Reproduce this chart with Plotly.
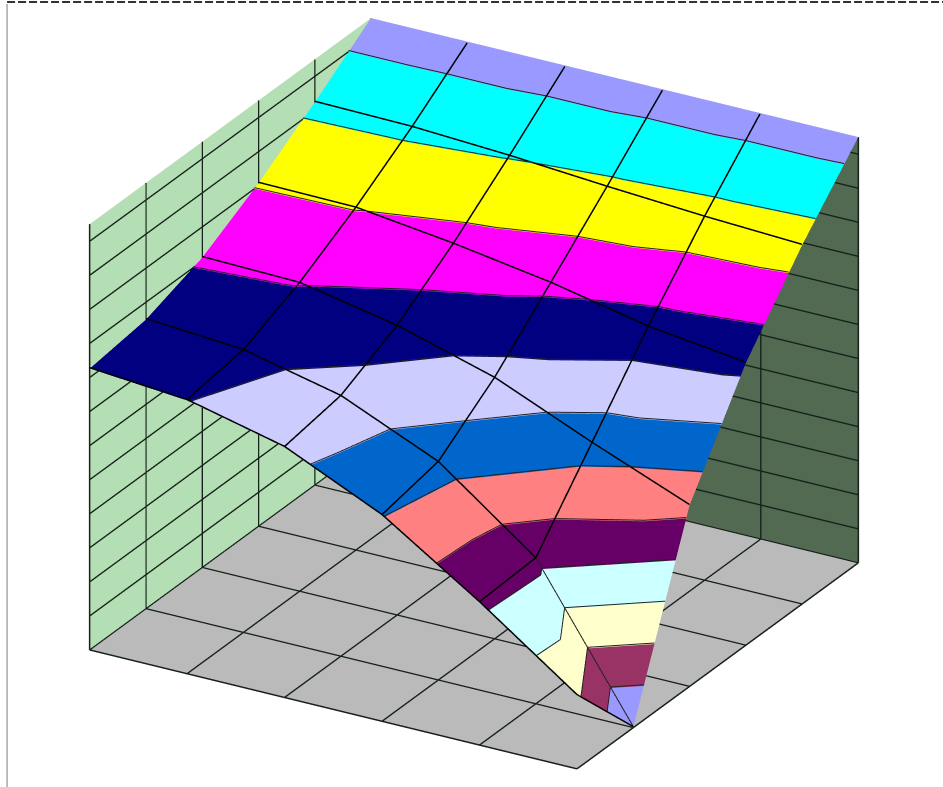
import plotly.graph_objects as go

# category positions on the two floor axes
x_cats = [0, 1, 2, 3, 4, 5]
y_cats = [0, 1, 2, 3, 4, 5]

# surface heights, one row per y category
row_0 = [8.26, 8.02, 7.34, 6.04, 4.18, 2.15]
row_1 = [8.49, 8.28, 7.63, 6.39, 4.26, 0.0]
row_2 = [9.10, 9.04, 8.48, 7.65, 6.44, 5.31]
row_3 = [10.07, 10.04, 9.68, 9.23, 8.64, 8.28]
row_4 = [11.24, 11.20, 11.05, 10.84, 10.66, 10.53]
row_5 = [12.5, 12.5, 12.5, 12.5, 12.5, 12.5]
z_rows = [row_0, row_1, row_2, row_3, row_4, row_5]

z_ticks = [1, 2, 3, 4, 5, 6, 7, 8, 9, 10, 11, 12]
z_top = 12.5

# one colour per height band, lowest first
band_colors = ["#9999ff", "#993366", "#ffffcc", "#ccffff", "#660066", "#ff8080", "#0066cc",
               "#ccccff", "#000080", "#ff00ff", "#ffff00", "#00ffff", "#9999ff"]

LIFT = 0.03  # keeps the lines just above the surface


def clip(poly, level, keep_above):
    # cut a polygon at a height
    out = []
    for a, b in zip(poly, poly[1:] + poly[:1]):
        a_in = a[2] >= level if keep_above else a[2] <= level
        b_in = b[2] >= level if keep_above else b[2] <= level
        if a_in:
            out.append(a)
        if a_in != b_in:
            t = (level - a[2]) / (b[2] - a[2])
            out.append((a[0] + t * (b[0] - a[0]), a[1] + t * (b[1] - a[1]), level))
    return out


# each cell is split along the diagonal whose ends are closest in height
triangles = []
for j in range(len(y_cats) - 1):
    for i in range(len(x_cats) - 1):
        p00 = (x_cats[i], y_cats[j], z_rows[j][i])
        p10 = (x_cats[i + 1], y_cats[j], z_rows[j][i + 1])
        p11 = (x_cats[i + 1], y_cats[j + 1], z_rows[j + 1][i + 1])
        p01 = (x_cats[i], y_cats[j + 1], z_rows[j + 1][i])
        if abs(p00[2] - p11[2]) <= abs(p10[2] - p01[2]):
            triangles += [[p00, p10, p11], [p00, p11, p01]]
        else:
            triangles += [[p00, p10, p01], [p10, p11, p01]]

vx, vy, vz, fi, fj, fk, fc = [], [], [], [], [], [], []
for tri in triangles:
    for b, color in enumerate(band_colors):
        poly = clip(tri, b, True)
        if poly:
            poly = clip(poly, b + 1, False)
        if len(poly) < 3:
            continue
        start = len(vx)
        for p in poly:
            vx.append(p[0])
            vy.append(p[1])
            vz.append(p[2])
        for n in range(1, len(poly) - 1):
            fi.append(start)
            fj.append(start + n)
            fk.append(start + n + 1)
            fc.append(color)

# thin lines where one band meets the next
bx, by, bz = [], [], []
for tri in triangles:
    for level in z_ticks:
        pts = []
        for a, b in zip(tri, tri[1:] + tri[:1]):
            if (a[2] - level) * (b[2] - level) < 0:
                t = (level - a[2]) / (b[2] - a[2])
                pts.append((a[0] + t * (b[0] - a[0]), a[1] + t * (b[1] - a[1])))
        if len(pts) == 2:
            bx += [pts[0][0], pts[1][0], None]
            by += [pts[0][1], pts[1][1], None]
            bz += [level + LIFT, level + LIFT, None]
# the row line in the last cell is thin too
bx += [x_cats[4], x_cats[5], None]
by += [y_cats[1], y_cats[1], None]
bz += [z_rows[1][4] + LIFT, z_rows[1][5] + LIFT, None]

# heavy grid lines on the surface
sx, sy, sz = [], [], []
for j, row in enumerate(z_rows):
    stop = 5 if j == 1 else 6
    sx += x_cats[:stop] + [None]
    sy += [y_cats[j]] * stop + [None]
    sz += [v + LIFT for v in row[:stop]] + [None]
for i in x_cats[1:5]:
    sx += [i] * 6 + [None]
    sy += y_cats + [None]
    sz += [row[i] + LIFT for row in z_rows] + [None]
sx += [x_cats[5], x_cats[5], None]
sy += [y_cats[0], y_cats[1], None]
sz += [z_rows[0][5] + LIFT, z_rows[1][5] + LIFT, None]

# grid on the floor and the two walls
gx, gy, gz = [], [], []
for v in x_cats:
    gx += [v, v, None, v, v, None]
    gy += [y_cats[0], y_cats[-1], None, y_cats[-1], y_cats[-1], None]
    gz += [0, 0, None, 0, z_top, None]
for v in y_cats:
    gx += [x_cats[0], x_cats[-1], None, x_cats[0], x_cats[0], None]
    gy += [v, v, None, v, v, None]
    gz += [0, 0, None, 0, z_top, None]
for v in z_ticks:
    gx += [x_cats[0], x_cats[0], None, x_cats[0], x_cats[-1], None]
    gy += [y_cats[0], y_cats[-1], None, y_cats[-1], y_cats[-1], None]
    gz += [v, v, None, v, v, None]

fig = go.Figure()
fig.add_trace(go.Mesh3d(
    x=vx, y=vy, z=vz, i=fi, j=fj, k=fk, facecolor=fc, flatshading=True,
    lighting=dict(ambient=1, diffuse=0, specular=0, fresnel=0, roughness=1),
    hoverinfo="skip",
))
fig.add_trace(go.Scatter3d(x=gx, y=gy, z=gz, mode="lines", line=dict(color="#16211a", width=3), hoverinfo="skip"))
fig.add_trace(go.Scatter3d(x=bx, y=by, z=bz, mode="lines", line=dict(color="#222222", width=2), hoverinfo="skip"))
fig.add_trace(go.Scatter3d(x=sx, y=sy, z=sz, mode="lines", line=dict(color="#000000", width=3), hoverinfo="skip"))


def axis(rng, bg):
    return dict(range=rng, autorange=False, showticklabels=False, ticks="", title="", showgrid=False,
                zeroline=False, showline=False, showbackground=True, backgroundcolor=bg, showspikes=False)


fig.update_layout(
    width=943, height=787,
    margin=dict(l=0, r=0, t=0, b=0),
    paper_bgcolor="#ffffff",
    showlegend=False,
    scene=dict(
        xaxis=axis([0, 5], "#b4dfb4"),
        yaxis=axis([0, 5], "#526952"),
        zaxis=axis([0, z_top], "#bababa"),
        aspectmode="manual",
        aspectratio=dict(x=1.43, y=1.43, z=1.194),
        camera=dict(
            projection=dict(type="orthographic"),
            up=dict(x=0, y=0, z=1),
            center=dict(x=-0.0055, y=-0.0032, z=0),
            eye=dict(x=0.5025, y=-0.8832, z=0.474),
        ),
    ),
    shapes=[
        dict(type="line", xref="paper", yref="paper", x0=0.0075, x1=0.0075, y0=0, y1=0.995,
             line=dict(color="#a8a8a8", width=1.5)),
        dict(type="line", xref="paper", yref="paper", x0=0.0075, x1=1, y0=0.9975, y1=0.9975,
             line=dict(color="#333333", width=2, dash="8px,3px")),
    ],
)

fig.write_html("out.html", config=dict(displayModeBar=False),
               post_script="document.body.style.margin='0';document.documentElement.style.overflow='hidden';")
